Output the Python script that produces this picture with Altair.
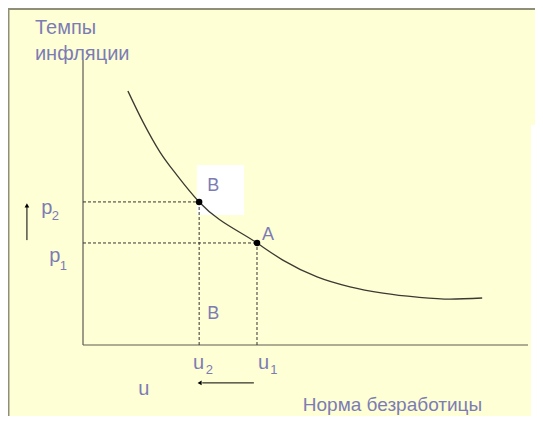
import altair as alt
import pandas as pd

# ---- data (unemployment %, inflation %) ----
curve_u = [1.01, 1.35, 1.73, 2.11, 2.61, 3.91, 4.49, 5.26, 6.00, 6.74, 7.51, 8.25, 8.97]
curve_p = [8.91, 7.82, 6.77, 5.96, 5.02, 3.58, 2.98, 2.39, 2.04, 1.82, 1.68, 1.61, 1.65]

point_names = ["B", "A"]
point_u = [2.61, 3.91]
point_p = [5.02, 3.58]

axis_len_u = 10.0
axis_len_p = 10.0

label_text = ["Темпы", "инфляции", "B", "A", "B", "p", "2", "p", "1",
              "u", "2", "u", "1", "u", "Норма безработицы"]
label_u = [-1.08, -1.08, 2.79, 4.02, 2.79, -0.94, -0.70, -0.76, -0.52,
           2.47, 2.76, 3.93, 4.21, 1.24, 4.94]
label_p = [10.91, 10.0, 5.40, 3.68, 0.91, 4.60, 4.39, 2.91, 2.63,
           -0.84, -1.02, -0.84, -1.02, -1.75, -2.32]
label_size = [20, 20, 18, 18, 18, 20, 13, 20, 13, 20, 13, 20, 13, 20, 19]

# ---- layout ----
W, H = 527, 408
XMIN = -1.6854
XMAX = XMIN + W / 44.5
YMAX = 11.8246
YMIN = YMAX - H / 28.5

BG = "#FFFFD6"
TXT = "#7C7CB4"
INK = "#3a3a32"

xs = alt.Scale(domain=[XMIN, XMAX], nice=False, zero=False)
ys = alt.Scale(domain=[YMIN, YMAX], nice=False, zero=False)

def X(f="u"):
    return alt.X(f"{f}:Q", scale=xs, axis=None)

def Y(f="p"):
    return alt.Y(f"{f}:Q", scale=ys, axis=None)

# white patches
patches = pd.DataFrame({
    "u": [2.56, 10.07], "u2": [3.62, 10.40],
    "p": [4.56, -2.63], "p2": [6.32, 7.72],
})
patch_layer = alt.Chart(patches).mark_rect(color="white").encode(
    x=X("u"), x2="u2", y=Y("p"), y2="p2")

# frame lines (panel border)
frame = pd.DataFrame({
    "u": [XMIN, -1.674], "u2": [XMAX, -1.674],
    "p": [11.79, YMIN], "p2": [11.79, YMAX],
})
frame_layer = alt.Chart(frame).mark_rule(color="#8f8f78", strokeWidth=2).encode(
    x=X("u"), x2="u2", y=Y("p"), y2="p2")

# axes
axes = pd.DataFrame({"u": [0, 0], "u2": [0, axis_len_u], "p": [0, 0], "p2": [axis_len_p, 0]})
axes_layer = alt.Chart(axes).mark_rule(color="#5c5c52", strokeWidth=1.2).encode(
    x=X("u"), x2="u2", y=Y("p"), y2="p2")

# dashed guides
guides = pd.DataFrame({
    "u": [0, 0, point_u[0], point_u[1]],
    "u2": [point_u[0], point_u[1], point_u[0], point_u[1]],
    "p": [point_p[0], point_p[1], 0, 0],
    "p2": [point_p[0], point_p[1], point_p[0], point_p[1]],
})
guide_layer = alt.Chart(guides).mark_rule(color="#333333", strokeWidth=1,
                                           strokeDash=[3, 2]).encode(
    x=X("u"), x2="u2", y=Y("p"), y2="p2")

# curve
curve = pd.DataFrame({"u": curve_u, "p": curve_p})
curve_layer = alt.Chart(curve).mark_line(color=INK, strokeWidth=1.3,
                                         interpolate="monotone").encode(
    x=X(), y=Y())

# points
pts = pd.DataFrame({"u": point_u, "p": point_p, "name": point_names})
pt_layer = alt.Chart(pts).mark_point(filled=True, color="black", size=42,
                                     opacity=1).encode(x=X(), y=Y())

# arrows
arrows = pd.DataFrame({"u": [-1.26, 3.84], "u2": [-1.26, 2.68],
                       "p": [3.68, -1.33], "p2": [4.85, -1.33]})
arrow_layer = alt.Chart(arrows).mark_rule(color="black", strokeWidth=1).encode(
    x=X("u"), x2="u2", y=Y("p"), y2="p2")
heads = pd.DataFrame({"u": [-1.26, 2.62], "p": [4.90, -1.33],
                      "shape": ["triangle-up", "triangle-left"]})
head_layer = alt.Chart(heads).mark_point(filled=True, color="black", size=22,
                                         opacity=1).encode(
    x=X(), y=Y(), shape=alt.Shape("shape:N", scale=None, legend=None))

# labels
labels = pd.DataFrame({"t": label_text, "u": label_u, "p": label_p, "fs": label_size})
label_layer = alt.Chart(labels).mark_text(align="left", baseline="alphabetic",
                                          font="Liberation Sans", color=TXT).encode(
    x=X(), y=Y(), text="t:N", size=alt.Size("fs:Q", scale=None, legend=None))

chart = alt.layer(
    patch_layer, frame_layer, axes_layer, guide_layer, curve_layer,
    pt_layer, arrow_layer, head_layer, label_layer
).properties(
    width=W, height=H, padding=0, background=BG,
    autosize=alt.AutoSizeParams(type="none")
).configure_view(stroke=None)

chart.save("out.html", embed_options={"renderer": "svg", "actions": False})
